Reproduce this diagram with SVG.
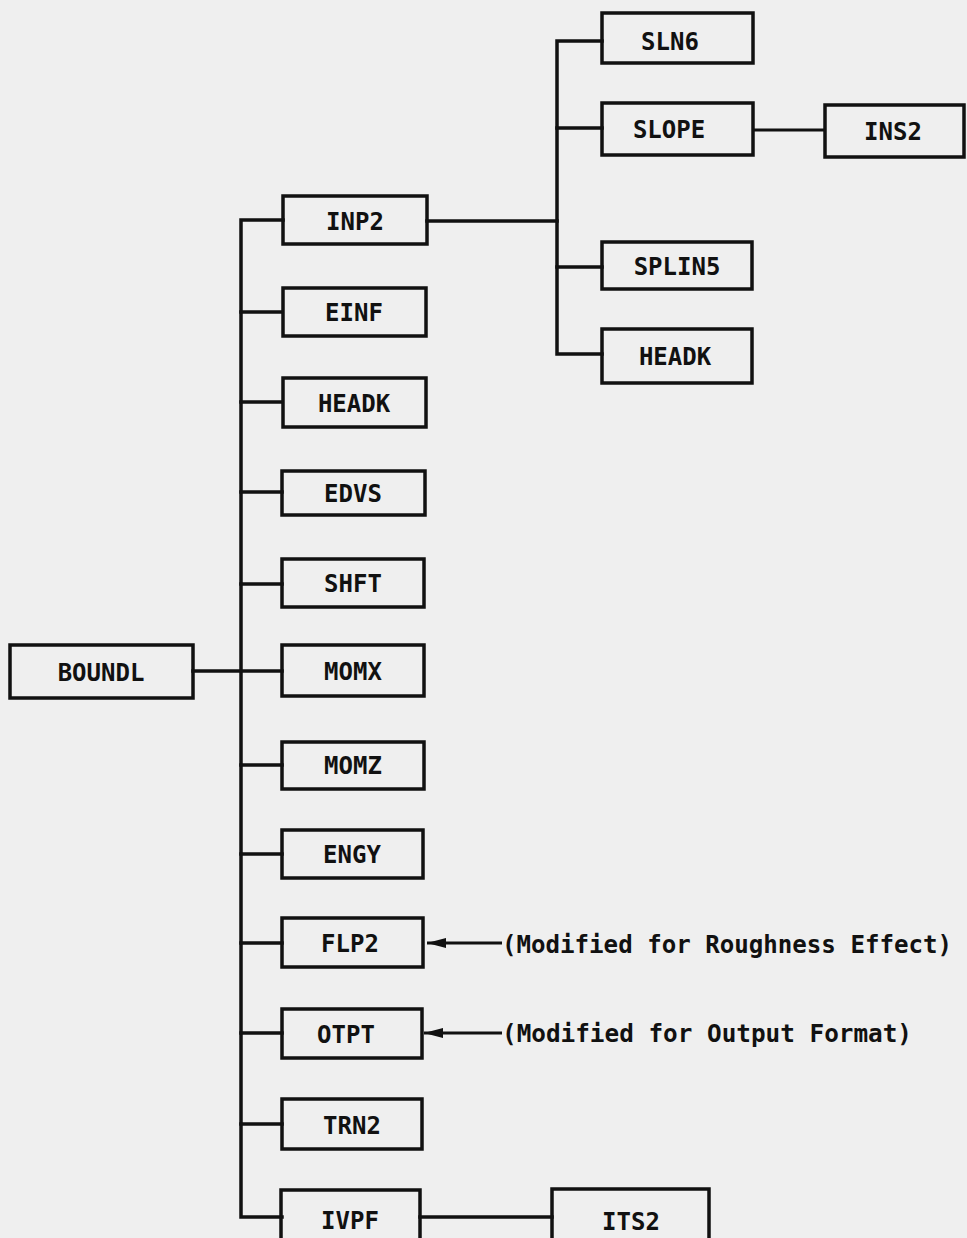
<svg xmlns="http://www.w3.org/2000/svg" width="967" height="1238" viewBox="0 0 967 1238">
<style>
.bg{fill:#efefef}
.box{fill:none;stroke:#111;stroke-width:3.5}
.ln{fill:none;stroke:#111;stroke-width:3.5;stroke-linecap:square}
.thin{fill:none;stroke:#111;stroke-width:3}
.lbl{font-family:"DejaVu Sans Mono","Liberation Mono",monospace;font-weight:bold;font-size:24px;fill:#111;text-anchor:middle}
.note{font-family:"DejaVu Sans Mono","Liberation Mono",monospace;font-weight:bold;font-size:24px;fill:#111}
</style>
<defs>
<marker id="ah" markerWidth="20" markerHeight="12" refX="19" refY="6" orient="auto" markerUnits="userSpaceOnUse">
<path d="M0,1 L19,6 L0,11 Z" fill="#111"/>
</marker>
</defs>
<rect class="bg" x="0" y="0" width="967" height="1238"/>
<g id="connectors">
<path class="ln" d="M283,220 H241 V1217 H282"/>
<path class="ln" d="M193,671 H282"/>
<path class="ln" d="M241,312 H282 M241,402 H282 M241,492 H282 M241,584 H282 M241,765 H282 M241,854 H282 M241,943 H282 M241,1033 H282 M241,1124 H282"/>
<path class="ln" d="M427,221 H557"/>
<path class="ln" d="M602,41 H557 V354 H602"/>
<path class="ln" d="M557,128 H602 M557,267 H602"/>
<path class="thin" d="M753,130 H825"/>
<path class="ln" d="M420,1217 H552"/>
<path class="thin" d="M502,943 H427" marker-end="url(#ah)"/>
<path class="thin" d="M502,1033 H424" marker-end="url(#ah)"/>
</g>
<g id="BOUNDL"><rect class="box" x="10" y="645" width="183" height="53"/><text class="lbl" x="101" y="681">BOUNDL</text></g>
<g id="INP2"><rect class="box" x="283" y="196" width="144" height="48"/><text class="lbl" x="355" y="230">INP2</text></g>
<g id="EINF"><rect class="box" x="283" y="288" width="143" height="48"/><text class="lbl" x="354" y="321">EINF</text></g>
<g id="HEADK1"><rect class="box" x="283" y="378" width="143" height="49"/><text class="lbl" x="354" y="412">HEADK</text></g>
<g id="EDVS"><rect class="box" x="282" y="471" width="143" height="44"/><text class="lbl" x="353" y="502">EDVS</text></g>
<g id="SHFT"><rect class="box" x="282" y="559" width="142" height="48"/><text class="lbl" x="353" y="592">SHFT</text></g>
<g id="MOMX"><rect class="box" x="282" y="645" width="142" height="51"/><text class="lbl" x="353" y="680">MOMX</text></g>
<g id="MOMZ"><rect class="box" x="282" y="742" width="142" height="47"/><text class="lbl" x="353" y="774">MOMZ</text></g>
<g id="ENGY"><rect class="box" x="282" y="830" width="141" height="48"/><text class="lbl" x="352" y="863">ENGY</text></g>
<g id="FLP2"><rect class="box" x="282" y="918" width="141" height="49"/><text class="lbl" x="350" y="952">FLP2</text></g>
<g id="OTPT"><rect class="box" x="282" y="1009" width="140" height="49"/><text class="lbl" x="346" y="1043">OTPT</text></g>
<g id="TRN2"><rect class="box" x="282" y="1099" width="140" height="50"/><text class="lbl" x="352" y="1134">TRN2</text></g>
<g id="IVPF"><rect class="box" x="281" y="1190" width="139" height="54"/><text class="lbl" x="350" y="1229">IVPF</text></g>
<g id="ITS2"><rect class="box" x="552" y="1189" width="157" height="55"/><text class="lbl" x="631" y="1230">ITS2</text></g>
<g id="SLN6"><rect class="box" x="602" y="13" width="151" height="50"/><text class="lbl" x="670" y="50">SLN6</text></g>
<g id="SLOPE"><rect class="box" x="602" y="103" width="151" height="52"/><text class="lbl" x="669" y="138">SLOPE</text></g>
<g id="INS2"><rect class="box" x="825" y="105" width="139" height="52"/><text class="lbl" x="893" y="140">INS2</text></g>
<g id="SPLIN5"><rect class="box" x="602" y="242" width="150" height="47"/><text class="lbl" x="677" y="275">SPLIN5</text></g>
<g id="HEADK2"><rect class="box" x="602" y="329" width="150" height="54"/><text class="lbl" x="675" y="365">HEADK</text></g>
<g id="notes">
<text class="note" x="502" y="953" textLength="450" lengthAdjust="spacingAndGlyphs">(Modified for Roughness Effect)</text>
<text class="note" x="502" y="1042" textLength="410" lengthAdjust="spacingAndGlyphs">(Modified for Output Format)</text>
</g>
</svg>
